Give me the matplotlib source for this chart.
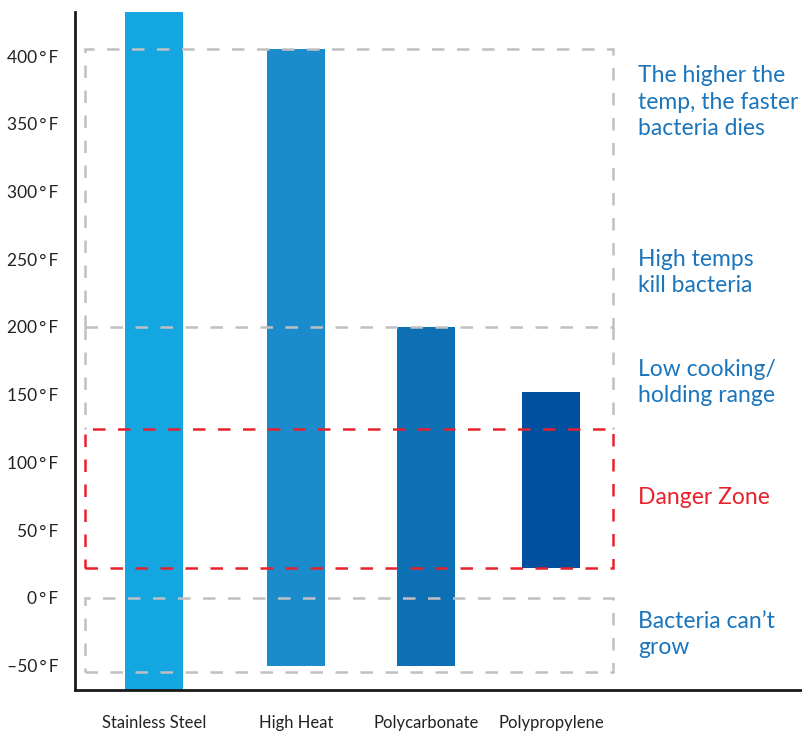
import matplotlib.pyplot as plt
from matplotlib.patches import Rectangle

plt.rcParams['font.family'] = ['Lato', 'DejaVu Sans']

# data
materials = ['Stainless Steel', 'High Heat', 'Polycarbonate', 'Polypropylene']
temp_low = [-80, -50, -50, 22]
temp_high = [460, 405, 200, 152]
bar_colors = ['#14a6e1', '#1a8bcb', '#0e70b4', '#0050a0']

yticks = [-50, 0, 50, 100, 150, 200, 250, 300, 350, 400]
ytick_labels = ['–50\u2009°\u2009F', '0\u2009°\u2009F', '50\u2009°\u2009F', '100\u2009°\u2009F',
                '150\u2009°\u2009F', '200\u2009°\u2009F', '250\u2009°\u2009F', '300\u2009°\u2009F',
                '350\u2009°\u2009F', '400\u2009°\u2009F']

# zones: (bottom, top, colour, draw bottom edge)
zones = [(200, 405, '#c0c0c2', True), (125, 200, '#c0c0c2', False),
         (-55, 0, '#c0c0c2', True), (22, 125, '#e8212d', True)]

notes = ['The higher the\ntemp, the faster\nbacteria dies', 'High temps\nkill bacteria',
         'Low cooking/\nholding range', 'Danger Zone', 'Bacteria can’t\ngrow']
note_y = [366, 240, 159, 74, -27]
note_colors = ['#1a75bc', '#1a75bc', '#1a75bc', '#e8212d', '#1a75bc']

# bar positions in axis units (axis spans 728 units wide)
bar_x = [79, 221, 351, 476]
bar_w = 58
x0, x1 = 10, 538

fig = plt.figure(figsize=(8.03, 7.32), dpi=100)
ax = fig.add_axes([75 / 803, 42 / 732, 728 / 803, 678 / 732])

ax.bar(bar_x, [h - l for l, h in zip(temp_low, temp_high)], bottom=temp_low,
       width=bar_w, color=bar_colors, zorder=2)

for i, (lo, hi, c, closed) in enumerate(zones):
    if closed:
        ax.add_patch(Rectangle((x0, lo), x1 - x0, hi - lo, fill=False, edgecolor=c,
                               linewidth=1.8, linestyle=(0, (5, 5)), zorder=3 + i))
    else:
        for xe in (x0, x1):
            ax.plot([xe, xe], [hi, lo], color=c, linewidth=1.8,
                    linestyle=(0, (5, 5)), zorder=3 + i)

for txt, y, c in zip(notes, note_y, note_colors):
    ax.text(563, y, txt, color=c, fontsize=16.5, va='center', ha='left',
            linespacing=1.3, zorder=10, clip_on=False)

ax.set_xlim(0, 728)
ax.set_ylim(-68, 432.5)
ax.set_yticks(yticks)
ax.set_yticklabels(ytick_labels)
ax.set_xticks(bar_x)
ax.set_xticklabels(materials)
ax.tick_params(axis='y', length=0, pad=12, labelsize=12.5, colors='#222222')
ax.tick_params(axis='x', length=0, pad=18, labelsize=12, colors='#222222')

for s in ['top', 'right']:
    ax.spines[s].set_visible(False)
for s in ['left', 'bottom']:
    ax.spines[s].set_linewidth(2)
    ax.spines[s].set_color('#1a1a1a')

fig.savefig('out.png', dpi=100)
